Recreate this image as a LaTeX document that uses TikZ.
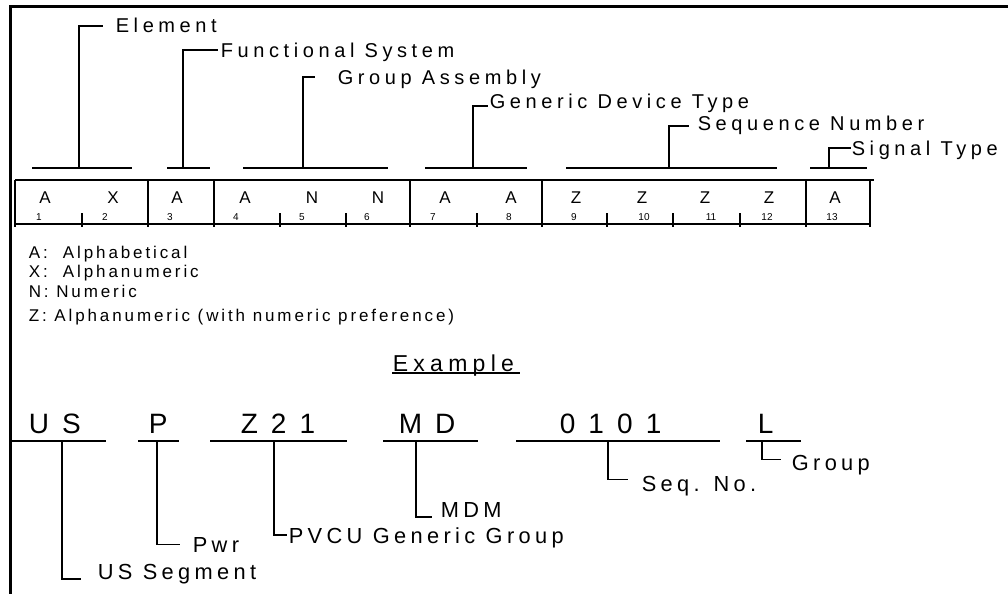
\documentclass[tikz,border=0pt]{standalone}
\usepackage{fontspec}
\setmainfont{Liberation Sans}
\newfontfamily\lblfont[LetterSpace=23]{Liberation Sans}
\newfontfamily\subfont[LetterSpace=20]{Liberation Sans}
\newfontfamily\keyfont[LetterSpace=17]{Liberation Sans}
\newfontfamily\exfont[LetterSpace=19]{Liberation Sans}

\begin{document}
\begin{tikzpicture}[x=1pt,y=-1pt,line width=1.6pt,
	frame/.style={line width=3pt},
	lbl/.style={anchor=base west,inner sep=0pt,text depth=0pt,font=\lblfont\fontsize{20}{20}\selectfont},
	sublbl/.style={lbl,font=\subfont\fontsize{21.8}{22}\selectfont},
	key/.style={anchor=base west,inner sep=0pt,font=\keyfont\fontsize{17}{17}\selectfont},
	cell/.style={anchor=base,inner sep=0pt,font=\fontsize{17}{17}\selectfont},
	idx/.style={anchor=base,inner sep=0pt,font=\fontsize{10}{10}\selectfont},
	big/.style={anchor=base west,inner sep=0pt,font=\exfont\fontsize{28}{28}\selectfont}]
	\useasboundingbox (0,0) rectangle (1008,594);
	\draw[frame] (1008,7) -| (10,594);

	% field layout
	\draw (15,180) -- (874,180);
	\draw (15,224) -- (870,224);
	\foreach \x in {15,148,214,410,542,806,870} \draw (\x,180) -- (\x,227);
	\foreach \x in {82,280,346,477,607,673,740} \draw (\x,213) -- (\x,227);
	\foreach \ch/\cx/\num/\nx in {A/45/1/39, X/113/2/105, A/177/3/170, A/245/4/236,
		N/312/5/302, N/378/6/367, A/445/7/433, A/511/8/509, Z/576/9/574,
		Z/642/10/644, Z/705/11/711, Z/769/12/767, A/835/13/832}
	{
		\node[cell] (c\num) at (\cx,203) {\ch};
		\node[idx] (n\num) at (\nx,220) {\num};
	}

	% field names
	\draw (32,168) -- (132,168);
	\coordinate (elemft) at (79,168);
	\node[lbl] (elem) at (115,33) {Element};
	\draw (elemft) |- ([xshift=-12]elem.west);

	\draw (167,168) -- (210,168);
	\coordinate (funcft) at (183,168);
	\node[lbl] (func) at (220,57) {Functional System};
	\draw (funcft) |- ([xshift=-2]func.west);

	\draw (243,168) -- (388,168);
	\coordinate (grpft) at (303,168);
	\node[lbl] (grp) at (337,84) {Group Assembly};
	\draw (grpft) |- ([xshift=-22]grp.west);

	\draw (425,168) -- (527,168);
	\coordinate (devft) at (473,168);
	\node[lbl] (dev) at (489,108) {Generic Device Type};
	\draw (devft) |- ([xshift=-1,yshift=2]dev.base west);

	\draw (566,168) -- (777,168);
	\coordinate (seqft) at (669,168);
	\node[lbl] (seq) at (697,130) {Sequence Number};
	\draw (seqft) |- ([xshift=-8,yshift=-3]seq.west);

	\draw (810,168) -- (867,168);
	\coordinate (sigft) at (829,168);
	\node[lbl] (sig) at (851,155) {Signal Type};
	\draw (sigft) |- (sig.west);

	% key
	\node[key] (keyA) at (28,258) {A:\ \ Alphabetical};
	\node[key] (keyX) at (28,277) {X:\ \ Alphanumeric};
	\node[key] (keyN) at (28,297) {N: Numeric};
	\node[key] (keyZ) at (28,321) {Z: Alphanumeric (with numeric preference)};

	% example
	\node[anchor=base west,inner sep=0pt,font=\lblfont\fontsize{23}{23}\selectfont] (exhead) at (392,371) {Example};
	\draw[line width=1.3pt] ([yshift=-2]exhead.base west) -- ++(128,0);

	\node[big] (us) at (28,433) {U S};
	\node[big] (pw) at (148,433) {P};
	\node[big] (zz) at (240,433) {Z 2 1};
	\node[big] (md) at (398,433) {M D};
	\node[big] (sn) at (559,433) {0 1 0 1};
	\node[big] (lg) at (757,433) {L};
	\draw (12,441) -- (106,441);
	\draw (138,441) -- (179,441);
	\draw (210,441) -- (347,441);
	\draw (383,441) -- (478,441);
	\draw (516,441) -- (720,441);
	\draw (746,441) -- (801,441);

	\coordinate (usft) at (62,441);
	\node[sublbl] (usseg) at (97,579) {US Segment};
	\draw (usft) |- ([xshift=-16]usseg.base west);

	\coordinate (pwft) at (157,441);
	\node[sublbl] (pwr) at (192,552) {Pwr};
	\draw (pwft) |- ([xshift=-12]pwr.west);

	\coordinate (zzft) at (274,441);
	\node[sublbl] (pvcu) at (288,543) {PVCU Generic Group};
	\draw (zzft) |- ([xshift=-1]pvcu.west);

	\coordinate (mdft) at (416,441);
	\node[sublbl] (mdm) at (440,517) {MDM};
	\draw (mdft) |- ([xshift=-8]mdm.base west);

	\coordinate (snft) at (608,441);
	\node[sublbl] (seqno) at (641,491) {Seq. No.};
	\draw (snft) |- ([xshift=-13,yshift=4]seqno.west);

	\coordinate (lgft) at (762,441);
	\node[sublbl] (group) at (791,470) {Group};
	\draw (lgft) |- ([xshift=-10,yshift=3]group.west);
\end{tikzpicture}
\end{document}
